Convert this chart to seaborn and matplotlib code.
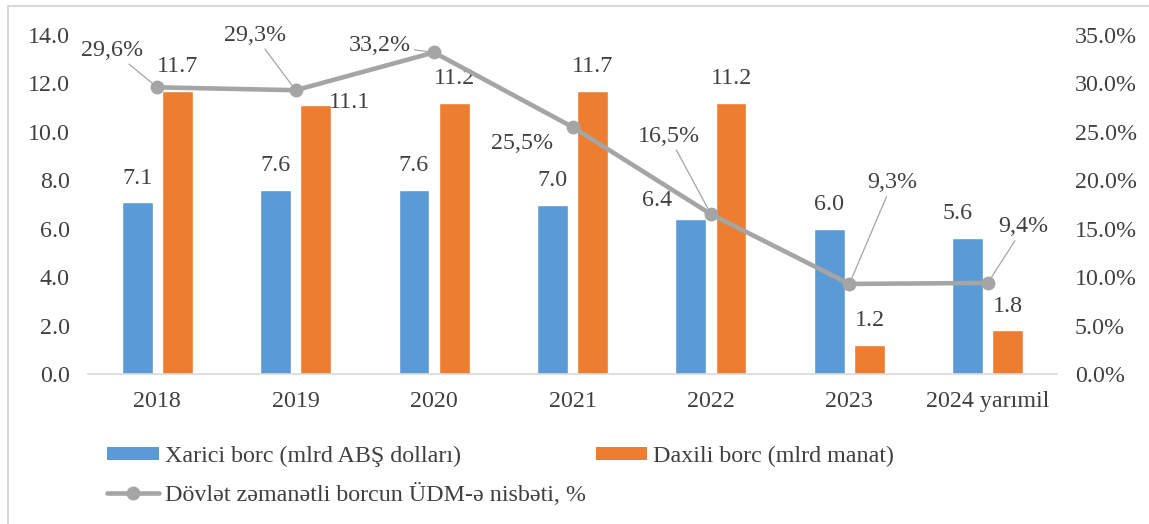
import matplotlib.pyplot as plt
import numpy as np
import pandas as pd
import seaborn as sns
from matplotlib.lines import Line2D
from matplotlib.ticker import FuncFormatter, MultipleLocator

# data
years = ["2018", "2019", "2020", "2021", "2022", "2023", "2024 yarımil"]
external_debt = [7.1, 7.6, 7.6, 7.0, 6.4, 6.0, 5.6]
domestic_debt = [11.7, 11.1, 11.2, 11.7, 11.2, 1.2, 1.8]
debt_to_gdp = [29.6, 29.3, 33.2, 25.5, 16.5, 9.3, 9.4]

EXT_NAME = "Xarici borc (mlrd ABŞ dolları)"
DOM_NAME = "Daxili borc (mlrd manat)"
RATIO_NAME = "Dövlət zəmanətli borcun ÜDM-ə nisbəti, %"

BLUE = "#5B9BD5"
ORANGE = "#ED7D31"
GRAY = "#A5A5A5"
TEXT = "#404040"
FS = 17.3
PX = 0.72  # pixels -> points at dpi 100

sns.set_style("white")
plt.rcParams["font.family"] = ["Liberation Serif", "DejaVu Serif"]

df = pd.DataFrame({
    "year": years * 2,
    "value": external_debt + domestic_debt,
    "series": [EXT_NAME] * len(years) + [DOM_NAME] * len(years),
})

fig = plt.figure(figsize=(11.49, 5.24), dpi=100)
ax = fig.add_axes([88 / 1149, 1 - 374 / 524, (1057 - 88) / 1149, (374 - 35) / 524])

sns.barplot(data=df, x="year", y="value", hue="series", order=years,
            hue_order=[EXT_NAME, DOM_NAME], palette=[BLUE, ORANGE],
            width=0.58, gap=0.23, ax=ax, legend=False, saturation=1)

ax.set_ylim(0, 14)
ax.set_xlim(-0.5, 6.5)
ax.yaxis.set_major_locator(MultipleLocator(2))
ax.yaxis.set_major_formatter(FuncFormatter(lambda v, _: f"{v:.1f}"))
ax.set_xlabel("")
ax.set_ylabel("")
for side in ["top", "left", "right"]:
    ax.spines[side].set_visible(False)
ax.spines["bottom"].set_color("#D9D9D9")
ax.spines["bottom"].set_linewidth(1.2)
ax.tick_params(axis="both", length=0, labelsize=FS, colors=TEXT)
ax.tick_params(axis="x", pad=12)
ax.tick_params(axis="y", pad=13)

# bar value labels (a few are nudged sideways like in the original)
bar_shift = {(1, 1): (34, 3), (0, 4): (-34, 19), (0, 6): (-10, 25)}
offset = 0.145
for s, values in enumerate([external_debt, domestic_debt]):
    for i, v in enumerate(values):
        dx, dy = bar_shift.get((s, i), (0, 24))
        x = i - offset if s == 0 else i + offset
        ax.annotate(f"{v:.1f}", (x, v), xytext=(dx * PX, dy * PX),
                    textcoords="offset points", ha="center", va="center",
                    fontsize=FS, color=TEXT)

ax2 = ax.twinx()
sns.lineplot(x=np.arange(len(years)), y=debt_to_gdp, ax=ax2, color=GRAY,
             linewidth=3.3, marker="o", markersize=10, markeredgewidth=0,
             legend=False)
ax.set_xlim(-0.5, 6.5)
ax2.set_ylim(0, 35)
ax2.yaxis.set_major_locator(MultipleLocator(5))
ax2.yaxis.set_major_formatter(FuncFormatter(lambda v, _: f"{v:.1f}%"))
ax2.set_ylabel("")
for side in ["top", "left", "right", "bottom"]:
    ax2.spines[side].set_visible(False)
ax2.tick_params(axis="y", length=0, labelsize=FS, colors=TEXT, pad=13)

# percent labels with leader lines
pct_pos = [(-45, 37, True), (-41, 55, True), (-54, 7, True), (-50, -16, False),
           (-42, 78, True), (43, 101, True), (36, 56, True)]
for i, (v, (dx, dy, lead)) in enumerate(zip(debt_to_gdp, pct_pos)):
    arrow = dict(arrowstyle="-", color=GRAY, lw=0.9, shrinkA=0, shrinkB=5) if lead else None
    ax2.annotate(f"{v:.1f}%".replace(".", ","), (i, v), xytext=(dx * PX, dy * PX),
                 textcoords="offset points", ha="center", va="center",
                 fontsize=FS, color=TEXT, arrowprops=arrow)

handles = [
    plt.Rectangle((0, 0), 1, 1, facecolor=BLUE, edgecolor="none"),
    Line2D([], [], color=GRAY, lw=3.3, marker="o", markersize=10, markeredgewidth=0),
    plt.Rectangle((0, 0), 1, 1, facecolor=ORANGE, edgecolor="none"),
]
labels = [EXT_NAME, RATIO_NAME, DOM_NAME]
leg = fig.legend(handles, labels, loc="center left", bbox_to_anchor=(107 / 1149, 1 - 476 / 524),
                 ncol=2, frameon=False, fontsize=FS, handlelength=2.16, handleheight=0.46,
                 handletextpad=0.25, columnspacing=0.4, labelspacing=0.65,
                 borderpad=0, borderaxespad=0)
for t in leg.get_texts():
    t.set_color(TEXT)

# light frame around the chart, as in the source image
fig.add_artist(Line2D([8 / 1149, 1], [1 - 6 / 524, 1 - 6 / 524], color="#D9D9D9", lw=1.5,
                      transform=fig.transFigure))
fig.add_artist(Line2D([8 / 1149, 8 / 1149], [0, 1 - 6 / 524], color="#D9D9D9", lw=1.5,
                      transform=fig.transFigure))

fig.savefig("out.png", dpi=100)
